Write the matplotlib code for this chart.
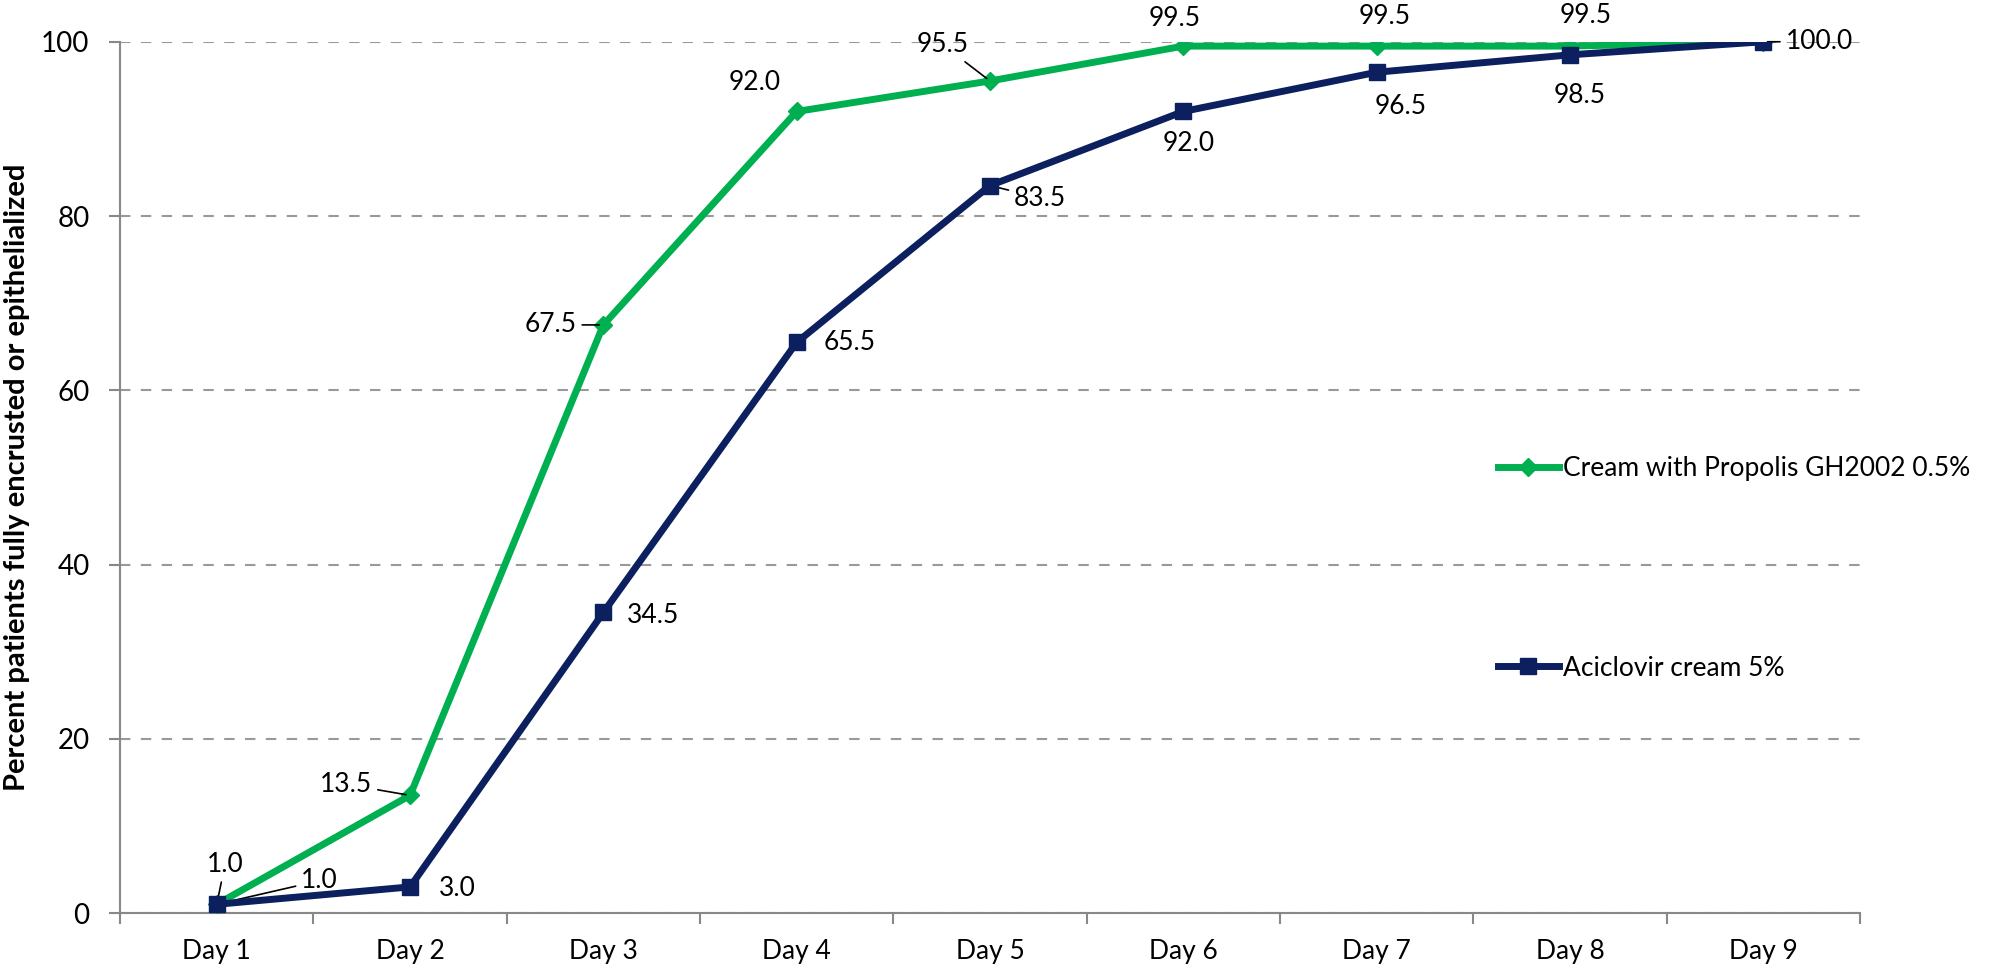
import matplotlib
matplotlib.use("Agg")
import numpy as np
from matplotlib import pyplot as plt

# data
days = ["Day 1", "Day 2", "Day 3", "Day 4", "Day 5", "Day 6", "Day 7", "Day 8", "Day 9"]
propolis = [1.0, 13.5, 67.5, 92.0, 95.5, 99.5, 99.5, 99.5, 100.0]
aciclovir = [1.0, 3.0, 34.5, 65.5, 83.5, 92.0, 96.5, 98.5, 100.0]
propolis_label = "Cream with Propolis GH2002 0.5%"
aciclovir_label = "Aciclovir cream 5%"
y_label = "Percent patients fully encrusted or epithelialized"

GREEN = "#00b050"
NAVY = "#0c1f5e"
plt.rcParams["font.family"] = ["Lato", "DejaVu Sans"]

# label offsets (points) and whether a leader line is drawn
green_offsets = [(6, 29, True), (-46, 8, True), (-38, 0, True), (-30, 21, False), (-34, 26, True),
                 (-6, 20, False), (6, 21, False), (11, 22, False), None]
navy_offsets = [(74, 17, True), (34, -1, False), (36, -2, False), (38, 0, False), (36, -9, True),
                (4, -23, False), (17, -25, False), (7, -29, False), (16, 0, True)]


def label_points(ax, xs, ys, offsets):
    for x, y, off in zip(xs, ys, offsets):
        if off is None:
            continue
        dx, dy, leader = off
        kw = {}
        if leader:
            kw["arrowprops"] = dict(arrowstyle="-", color="black", lw=1.2, shrinkA=2, shrinkB=3)
        ha = "left" if (x == 9) else "center"
        ax.annotate(f"{y:.1f}", (x, y), xytext=(dx, dy), textcoords="offset points",
                    ha=ha, va="center", fontsize=19, **kw)


def main():
    fig = plt.figure(figsize=(20.08, 9.71), dpi=100)
    ax = fig.add_axes([0.0598, 0.0597, 0.8665, 0.8973])

    x = np.arange(1, len(days) + 1)
    ax.plot(x, propolis, color=GREEN, lw=5, marker="D", ms=9, label=propolis_label, zorder=3)
    ax.plot(x, aciclovir, color=NAVY, lw=5, marker="s", ms=11, label=aciclovir_label, zorder=4)

    label_points(ax, x, propolis, green_offsets)
    label_points(ax, x, aciclovir, navy_offsets)

    ax.set_xlim(0.5, 9.5)
    ax.set_ylim(0, 100)
    ax.set_yticks([0, 20, 40, 60, 80, 100])
    ax.set_xticks(x)
    ax.set_xticklabels(days)
    ax.set_xticks(np.arange(0.5, 10, 1), minor=True)
    ax.tick_params(axis="x", which="major", length=0, pad=19, labelsize=19)
    ax.tick_params(axis="x", which="minor", length=8, width=1.5, color="#888888", direction="out")
    ax.tick_params(axis="y", length=8, width=1.5, color="#888888", pad=14, labelsize=20)

    ax.grid(axis="y", color="#999999", lw=1.5, ls=(0, (5, 5)))
    ax.set_axisbelow(True)
    for side in ["top", "right"]:
        ax.spines[side].set_visible(False)
    for side in ["left", "bottom"]:
        ax.spines[side].set_color("#888888")
        ax.spines[side].set_linewidth(1.5)

    ax.set_ylabel(y_label, fontsize=21, fontweight="bold", labelpad=8)

    fig.legend(loc="upper left", bbox_to_anchor=(0.746, 0.530), frameon=False,
               prop={"size": 19}, labelspacing=6.6,
               handlelength=2.3, handletextpad=0.15, borderpad=0, borderaxespad=0)

    fig.savefig("out.png", dpi=100)


if __name__ == "__main__":
    main()
